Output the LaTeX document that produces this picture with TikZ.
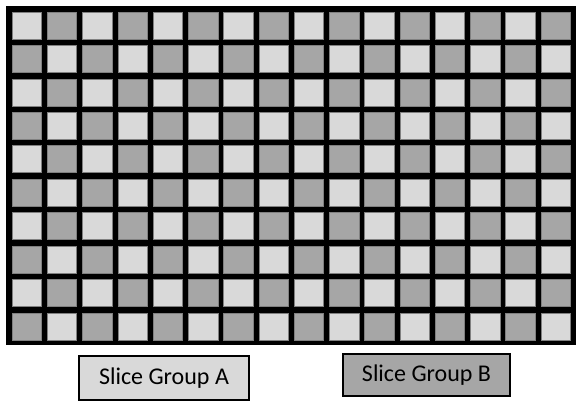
\documentclass[tikz,border=0pt]{standalone}
\usepackage{fontspec}
\setmainfont{Carlito}
\definecolor{lightcell}{HTML}{D9D9D9}
\definecolor{darkcell}{HTML}{A6A6A6}
\begin{document}
\begin{tikzpicture}[x=1pt,y=-1pt,every node/.style={font=\fontsize{24}{28}\selectfont},
        lt/.style={fill=lightcell,draw=gray,line width=0.6pt},
        dk/.style={fill=darkcell,draw=gray,line width=0.6pt},
        key/.style={rectangle,draw,line width=1.8pt,inner sep=0}]
        \useasboundingbox (0,0) rectangle (578,402);
        \fill (6,6) rectangle (576,345);
        \foreach \i in {0,...,15}{
            \foreach \j in {0,...,9}{
                \pgfmathtruncatemacro\pty{mod(\i+\j,2)}
                \ifnum\pty=0 \def\cs{lt}\else\def\cs{dk}\fi
                \draw[\cs] (12+\i*35.27,12+\j*33.44) rectangle ++(29.5,27);
            }
        }
        \node[key,fill=lightcell,minimum width=170pt,minimum height=44pt] (grpA) at (164,378) {Slice Group A};
        \node[key,fill=darkcell,minimum width=167pt,minimum height=42pt] (grpB) at (426.5,375) {Slice Group B};
    \end{tikzpicture}
\end{document}
